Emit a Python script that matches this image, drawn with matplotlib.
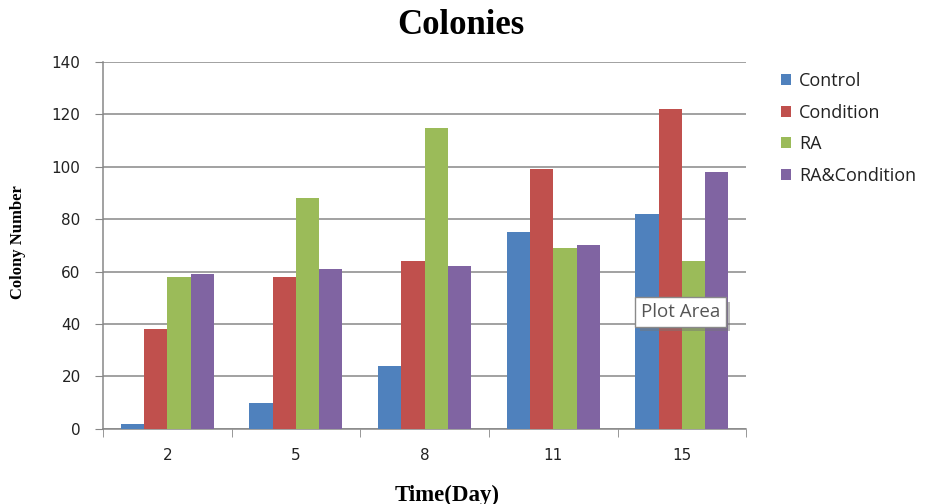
import numpy as np
import matplotlib.pyplot as plt
from matplotlib import patheffects

days = ["2", "5", "8", "11", "15"]
series = ["Control", "Condition", "RA", "RA&Condition"]
control = [2, 10, 24, 75, 82]
condition = [38, 58, 64, 99, 122]
ra = [58, 88, 115, 69, 64]
ra_condition = [59, 61, 62, 70, 98]
colors = ["#4F81BD", "#C0504D", "#9BBB59", "#8064A2"]

fig = plt.figure(figsize=(9.27, 5.04), dpi=100)
ax = fig.add_axes([0.111, 0.149, 0.694, 0.728])

x = np.arange(len(days))
w = 0.181
values = [control, condition, ra, ra_condition]
for i, (name, vals) in enumerate(zip(series, values)):
    ax.bar(x + (i - 1.5) * w, vals, width=w, color=colors[i], label=name, zorder=3)

ax.set_xlim(-0.5, len(days) - 0.5)
ax.set_ylim(0, 140)
ax.set_yticks(range(0, 141, 20))
ax.set_xticks(x)
ax.set_xticklabels(days)
ax.set_xticks(np.arange(-0.5, len(days), 1), minor=True)
ax.tick_params(axis="x", which="major", length=0, pad=14, labelsize=11, labelcolor="#222222")
ax.tick_params(axis="x", which="minor", length=6, color="#878787", direction="out")
ax.tick_params(axis="y", length=6, color="#878787", direction="out", labelsize=11,
               pad=10, labelcolor="#222222")
for lab in ax.get_xticklabels() + ax.get_yticklabels():
    lab.set_fontfamily("DejaVu Sans")

ax.grid(axis="y", color="#878787", linewidth=1.1, zorder=0)
for s in ["top", "right"]:
    ax.spines[s].set_visible(False)
for s in ["left", "bottom"]:
    ax.spines[s].set_color("#878787")
    ax.spines[s].set_linewidth(1.1)

fig.text(0.497, 0.95, "Colonies", ha="center", va="center",
         fontsize=25, fontweight="bold", family="Liberation Serif")
fig.text(0.019, 0.52, "Colony Number", rotation=90, ha="center", va="center",
         fontsize=12, fontweight="bold", family="Liberation Serif")
fig.text(0.482, 0.018, "Time(Day)", ha="center", va="center",
         fontsize=16.5, fontweight="bold", family="Liberation Serif")

leg = fig.legend(loc="upper left", bbox_to_anchor=(0.825, 0.889), frameon=False,
                 handlelength=0.55, handleheight=0.55, handletextpad=0.45,
                 labelspacing=0.75, prop={"family": "Open Sans", "size": 13})
for t in leg.get_texts():
    t.set_color("#222222")

txt = ax.text(3.99, 44.6, "Plot Area", ha="center", va="center", fontsize=13.5,
              family="Open Sans", color="#555555", zorder=5,
              bbox=dict(boxstyle="square,pad=0.3", fc="white", ec="#8a8a8a", lw=1))
txt.get_bbox_patch().set_path_effects([
    patheffects.withSimplePatchShadow(offset=(3, -3), shadow_rgbFace="#777777", alpha=0.5)])

fig.savefig("out.png", dpi=100)
